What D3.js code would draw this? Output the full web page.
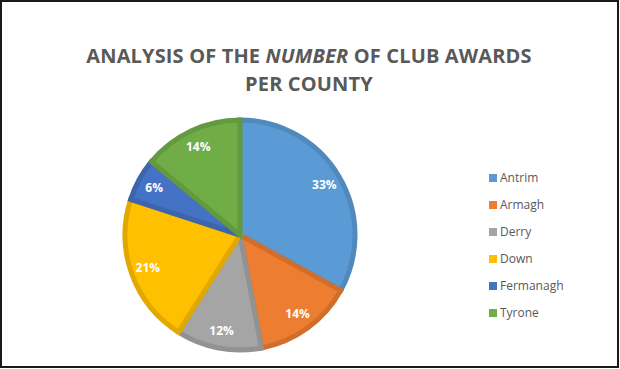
<!DOCTYPE html>
<html><head><meta charset="utf-8">
<script src="https://cdn.jsdelivr.net/npm/d3@7"></script>
<style>body{margin:0;background:#fff}</style>
</head><body>
<svg id="c" width="620" height="369"></svg>
<script>
const categories = ["Antrim","Armagh","Derry","Down","Fermanagh","Tyrone"];
const values = [33,14,12,21,6,14];
const colors = ["#5B9BD5","#ED7D31","#A5A5A5","#FFC000","#4472C4","#70AD47"];

const svg = d3.select("#c");
svg.append("rect").attr("x",1).attr("y",1).attr("width",617).attr("height",366)
  .attr("fill","#fff").attr("stroke","#1a1a1a").attr("stroke-width",2);

const title = svg.append("text").attr("text-anchor","middle")
  .attr("font-family","Open Sans, sans-serif").attr("font-weight","bold")
  .attr("font-size",20).attr("fill","#595959").attr("letter-spacing",0.15);
const t1 = title.append("tspan").attr("x",309).attr("y",63);
t1.append("tspan").text("ANALYSIS OF THE ");
t1.append("tspan").attr("font-style","italic").text("NUMBER");
t1.append("tspan").text(" OF CLUB AWARDS");
title.append("tspan").attr("x",309).attr("y",91).text("PER COUNTY");

const cx = 240, cy = 235, R = 118;
const pie = d3.pie().sort(null).value(d=>d)(values);
const arc = d3.arc().innerRadius(0).outerRadius(R-3);
const g = svg.append("g").attr("transform",`translate(${cx},${cy})`);
g.selectAll("path").data(pie).join("path")
  .attr("d",arc)
  .attr("fill",(d,i)=>colors[i])
  .attr("stroke",(d,i)=>d3.color(colors[i]).darker(0.35))
  .attr("stroke-width",5).attr("stroke-linejoin","miter");
const larc = d3.arc().innerRadius(98).outerRadius(98);
g.selectAll("text.l").data(pie).join("text")
  .attr("transform",d=>`translate(${larc.centroid(d)})`)
  .attr("text-anchor","middle").attr("dy","0.35em")
  .attr("font-family","Open Sans, sans-serif").attr("font-weight","bold")
  .attr("font-size",12).attr("fill","#fff")
  .text(d=>d.data+"%");

const lg = svg.append("g");
categories.forEach((c,i)=>{
  const y = 178 + i*27;
  lg.append("rect").attr("x",489).attr("y",y-4).attr("width",8).attr("height",8).attr("fill",colors[i]);
  lg.append("text").attr("x",500).attr("y",y).attr("dy","0.35em")
    .attr("font-family","Open Sans, sans-serif").attr("font-size",12).attr("fill","#595959").text(c);
});
</script>
</body></html>
